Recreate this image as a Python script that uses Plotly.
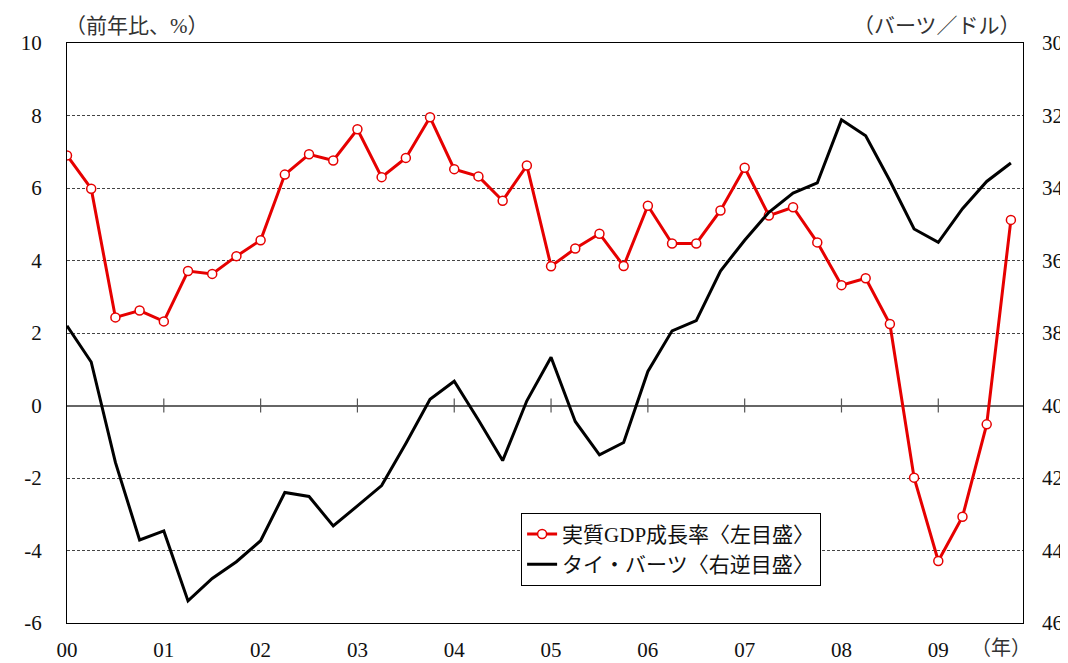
import plotly.graph_objects as go

# quarterly index 0 = 2000Q1 ... 39 = 2009Q4
quarters = list(range(40))
gdp_growth = [6.90, 5.98, 2.43, 2.62, 2.32, 3.71, 3.63, 4.12, 4.56, 6.37,
              6.93, 6.76, 7.62, 6.30, 6.83, 7.95, 6.52, 6.32, 5.65, 6.62,
              3.84, 4.33, 4.74, 3.85, 5.51, 4.47, 4.47, 5.38, 6.56, 5.24,
              5.47, 4.50, 3.32, 3.51, 2.25, -1.99, -4.29, -3.07, -0.52, 5.12]
baht = [37.80, 38.80, 41.57, 43.71, 43.46, 45.39, 44.77, 44.31, 43.73, 42.40,
        42.51, 43.32, 42.77, 42.21, 41.05, 39.83, 39.33, 40.40, 41.52, 39.87,
        38.67, 40.44, 41.36, 41.02, 39.06, 37.94, 37.66, 36.29, 35.44, 34.67,
        34.14, 33.86, 32.12, 32.56, 33.80, 35.13, 35.50, 34.57, 33.82, 33.31]
year_ticks = [0, 4, 8, 12, 16, 20, 24, 28, 32, 36]
year_labels = ["00", "01", "02", "03", "04", "05", "06", "07", "08", "09"]
left_ticks = [-6, -4, -2, 0, 2, 4, 6, 8, 10]
left_labels = ["-6", "-4", "-2", "0", "2", "4", "6", "8", "10"]
right_ticks = [30, 32, 34, 36, 38, 40, 42, 44, 46]

FONT = "Liberation Serif, Noto Sans CJK JP, serif"
RED = "#e60000"

fig = go.Figure()
fig.add_trace(go.Scatter(
    x=quarters, y=baht, name="タイ・バーツ〈右逆目盛〉",
    mode="lines", line=dict(color="black", width=3), yaxis="y2"))
fig.add_trace(go.Scatter(
    x=quarters, y=gdp_growth, name="実質GDP成長率〈左目盛〉",
    mode="lines+markers",
    line=dict(color=RED, width=3),
    marker=dict(symbol="circle", size=9, color="white",
                line=dict(color=RED, width=1.5)),
    yaxis="y"))

# year tick marks crossing the zero line
for t in year_ticks[1:]:
    fig.add_shape(type="line", xref="x", yref="y", x0=t, x1=t,
                  ysizemode="pixel", yanchor=0, y0=-7, y1=7,
                  line=dict(color="#555555", width=1.2))

# page body has an 8px default margin, so the figure is 8px smaller
fig.update_layout(
    width=1060, height=655,
    margin=dict(l=59, r=45, t=35, b=40, autoexpand=False),
    paper_bgcolor="white", plot_bgcolor="white",
    font=dict(family=FONT, size=21, color="#111111"),
    showlegend=True,
    legend=dict(x=0.475, y=0.19, xanchor="left", yanchor="top",
                bgcolor="white", bordercolor="black", borderwidth=1,
                font=dict(family=FONT, size=21), itemwidth=30,
                traceorder="reversed", tracegroupgap=0),
    xaxis=dict(range=[0, 39.5], tickvals=year_ticks, ticktext=year_labels,
               showgrid=False, zeroline=False, ticks="", automargin=False,
               showline=True, linecolor="black", linewidth=1.2, mirror=True,
               ticklabelstandoff=8, tickfont=dict(size=21)),
    yaxis=dict(range=[-6, 10], tickvals=left_ticks, ticktext=left_labels,
               showgrid=True, automargin=False,
               gridcolor="#444444", griddash="3px,2px", gridwidth=1,
               zeroline=True, zerolinecolor="#666666", zerolinewidth=1.5,
               ticks="", showline=True, linecolor="black", linewidth=1.2,
               mirror=True, ticklabelstandoff=20, tickfont=dict(size=21)),
    yaxis2=dict(range=[46, 30], tickvals=right_ticks, overlaying="y",
                side="right", showgrid=False, zeroline=False, ticks="",
                automargin=False,
                showline=False, ticklabelstandoff=18, tickfont=dict(size=21)),
)

fig.add_annotation(text="（前年比、%）", xref="paper", yref="paper",
                   x=-0.004, y=1.0, xanchor="left", yanchor="bottom", yshift=3,
                   showarrow=False, font=dict(size=21, family=FONT, color="#333333"))
fig.add_annotation(text="（バーツ／ドル）", xref="paper", yref="paper",
                   x=1.0, y=1.0, xanchor="right", yanchor="bottom", yshift=3,
                   showarrow=False, font=dict(size=21, family=FONT, color="#333333"))
fig.add_annotation(text="（年）", xref="x", yref="paper",
                   x=38.6, y=0, xanchor="center", yanchor="top", yshift=-12,
                   showarrow=False, font=dict(size=20, family=FONT, color="#333333"))

fig.write_html("out.html")
